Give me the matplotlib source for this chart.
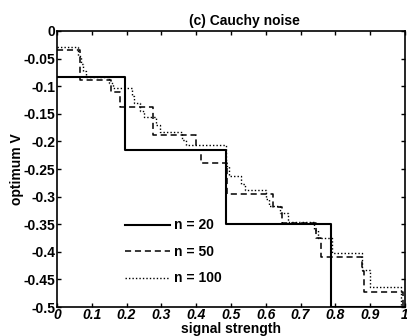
import matplotlib
matplotlib.use('Agg')
import matplotlib.pyplot as plt
import numpy as np

# step start positions and levels
x20 = [0.0, 0.195, 0.487, 0.787, 1.0]
y20 = [-0.083, -0.215, -0.349, -0.5, -0.5]

x50 = [0.0, 0.065, 0.155, 0.18, 0.275, 0.40, 0.415, 0.49, 0.62, 0.648,
       0.745, 0.76, 0.876, 0.882, 0.995, 1.0]
y50 = [-0.035, -0.088, -0.11, -0.137, -0.188, -0.215, -0.24, -0.295, -0.318, -0.347,
       -0.375, -0.41, -0.435, -0.473, -0.5, -0.5]

x100 = [0.0, 0.060, 0.068, 0.075, 0.082, 0.150, 0.160, 0.215, 0.222, 0.240,
        0.250, 0.285, 0.295, 0.360, 0.370, 0.485, 0.495, 0.530, 0.540, 0.600,
        0.610, 0.640, 0.665, 0.740, 0.750, 0.790, 0.876, 0.900, 0.990, 1.0]
y100 = [-0.030, -0.045, -0.060, -0.072, -0.083, -0.095, -0.103, -0.118, -0.130, -0.145,
        -0.155, -0.170, -0.183, -0.198, -0.207, -0.245, -0.263, -0.278, -0.288, -0.305,
        -0.317, -0.330, -0.346, -0.360, -0.375, -0.402, -0.433, -0.463, -0.500, -0.500]

xticks = [0, 0.1, 0.2, 0.3, 0.4, 0.5, 0.6, 0.7, 0.8, 0.9, 1]
xtick_labels = ['0', '0.1', '0.2', '0.3', '0.4', '0.5', '0.6', '0.7', '0.8', '0.9', '1']
yticks = [0, -0.05, -0.1, -0.15, -0.2, -0.25, -0.3, -0.35, -0.4, -0.45, -0.5]
ytick_labels = ['0', '-0.05', '-0.1', '-0.15', '-0.2', '-0.25', '-0.3', '-0.35', '-0.4', '-0.45', '-0.5']

plt.rcParams['font.family'] = ['Liberation Sans', 'DejaVu Sans']

fig = plt.figure(figsize=(4.07, 3.36), dpi=100)
ax = fig.add_axes([0.140, 0.086, 0.855, 0.822])

ax.plot(x20, y20, drawstyle='steps-post', color='black', lw=1.5, label='n = 20')
ax.plot(x50, y50, drawstyle='steps-post', color='black', lw=1.1, ls=(0, (4, 2.5)), label='n = 50')
ax.plot(x100, y100, drawstyle='steps-post', color='black', lw=1.0, ls=(0, (1, 1.5)), label='n = 100')

ax.set_xlim(0, 1)
ax.set_ylim(-0.5, 0)
ax.set_xticks(xticks)
ax.set_xticklabels(xtick_labels, fontsize=10, fontweight='bold', style='italic')
ax.set_yticks(yticks)
ax.set_yticklabels(ytick_labels, fontsize=10, fontweight='bold')
ax.tick_params(direction='in', top=True, right=True, length=3, width=1, pad=1)
for sp in ax.spines.values():
    sp.set_linewidth(1.2)

ax.set_xlabel('signal strength', fontsize=10, fontweight='bold', labelpad=0)
ax.set_ylabel('optimum V', fontsize=10, fontweight='bold', labelpad=0)
ax.set_title('(c) Cauchy noise', fontsize=10, fontweight='bold', pad=4, x=0.54)

ax.legend(loc='center left', bbox_to_anchor=(0.16, 0.20), frameon=False,
          handlelength=3.2, labelspacing=0.9, handletextpad=0.3,
          prop={'weight': 'bold', 'size': 10})

fig.savefig('out.png', dpi=100)
